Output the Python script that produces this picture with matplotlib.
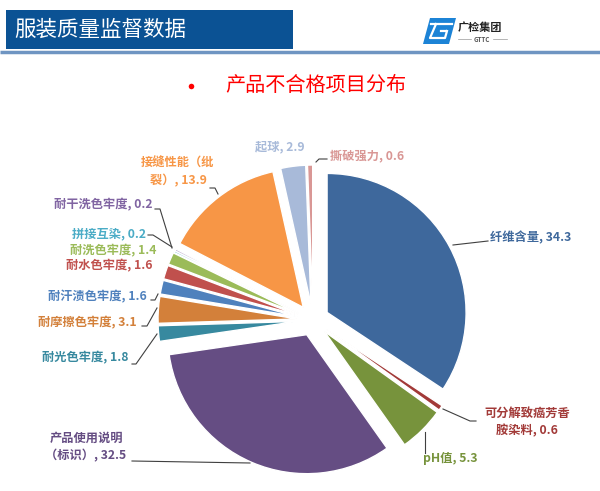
import matplotlib
matplotlib.use("Agg")
import matplotlib.pyplot as plt
from matplotlib.patches import Rectangle, Polygon

plt.rcParams['font.family'] = ['Noto Sans CJK SC', 'DejaVu Sans']

# data, clockwise from 12 o'clock
names = ['纤维含量', '可分解致癌芳香\n胺染料', 'pH值', '产品使用说明\n（标识）', '耐光色牢度',
         '耐摩擦色牢度', '耐汗渍色牢度', '耐水色牢度', '耐洗色牢度', '拼接互染',
         '耐干洗色牢度', '接缝性能（纰\n裂）', '起球', '撕破强力']
values = [34.3, 0.6, 5.3, 32.5, 1.8, 3.1, 1.6, 1.6, 1.4, 0.2, 0.2, 13.9, 2.9, 0.6]
colors = ['#3E689C', '#A23A38', '#77933C', '#654D83', '#37899F', '#D3803A',
          '#4F81BD', '#C0504D', '#9BBB59', '#4BACC6', '#8064A2', '#F79646',
          '#A8BAD9', '#D99795']

title = '服装质量监督数据'
subtitle = '产品不合格项目分布'

fig = plt.figure(figsize=(6, 4.91), dpi=100)

# pie axes: centre ~ (313, 320) px, radius ~139 px
pax = fig.add_axes([(313 - 139) / 600, (491 - 320 - 139) / 491, 278 / 600, 278 / 491])
wedges, _ = pax.pie(values, colors=colors, startangle=90, counterclock=False,
                    explode=[0.115] * len(values),
                    wedgeprops=dict(edgecolor='white', linewidth=1))
for w in wedges:
    w.set_clip_on(False)
pax.set_xlim(-1, 1)
pax.set_ylim(-1, 1)
pax.set_aspect('auto')
pax.axis('off')

# overlay in pixel coords
ax = fig.add_axes([0, 0, 1, 1], zorder=5)
ax.set_xlim(0, 600)
ax.set_ylim(491, 0)
ax.axis('off')
ax.patch.set_alpha(0)

# header
ax.add_patch(Rectangle((6, 10), 287, 39, facecolor='#0B5294', edgecolor='none'))
ax.text(14, 30, title, color='white', fontsize=15.5, va='center', ha='left')
ax.plot([0, 600], [52, 52], color='#6F95C2', lw=2.5, solid_capstyle='butt')

# logo
ax.add_patch(Polygon([(430, 18), (456, 18), (449, 44), (423, 44)], closed=True,
                     facecolor='#1C83D6', edgecolor='none'))
ax.plot([431, 452], [24, 24], color='white', lw=1.6)
ax.plot([436, 430, 445, 447], [24, 38, 38, 31], color='white', lw=1.6)
ax.plot([446, 441], [31, 31], color='white', lw=1.6)
ax.text(458, 27, '广检集团', fontsize=8, fontweight='bold', color='#222222', va='center', ha='left')
ax.text(482, 39, 'GTTC', fontsize=4.5, fontweight='bold', color='#555555', va='center', ha='center')
ax.plot([458, 471], [39, 39], color='#999999', lw=0.5)
ax.plot([493, 507], [39, 39], color='#999999', lw=0.5)

# chart title
ax.plot([191], [86], 'o', color='red', ms=4, mec='none')
ax.text(225, 85, subtitle, color='red', fontsize=14.5, va='center', ha='left')

# data labels: (x, y, ha)
label_pos = [(490, 238, 'left'), (527, 422, 'center'), (423, 458, 'left'),
             (86, 447, 'center'), (129, 358, 'right'), (137, 323, 'right'),
             (147, 297, 'right'), (152, 266, 'right'), (156, 251, 'right'),
             (146, 234, 'right'), (152, 205, 'right'), (178, 172, 'center'),
             (255, 147, 'left'), (330, 156, 'left')]
for name, v, c, (x, y, ha) in zip(names, values, colors, label_pos):
    ax.text(x, y, f'{name}, {v}', color=c, fontsize=8.8, fontweight='bold',
            ha=ha, va='center', multialignment='center', linespacing=1.4)

leaders = [
    [(453, 245), (488, 241)],
    [(443, 409), (470, 421), (476, 421)],
    [(425, 432), (425, 453)],
    [(132, 461), (250, 463)],
    [(132, 364), (136, 364), (157, 334)],
    [(142, 326), (147, 326), (157, 308)],
    [(151, 300), (155, 300), (158, 294)],
    [(148, 235), (153, 235), (172, 247)],
    [(155, 209), (160, 209), (172, 248)],
    [(210, 188), (215, 188), (218, 194)],
    [(316, 162), (319, 159), (327, 159)],
]
for pts in leaders:
    xs, ys = zip(*pts)
    ax.plot(xs, ys, color='#404040', lw=0.8)

fig.savefig('out.png', dpi=100)
